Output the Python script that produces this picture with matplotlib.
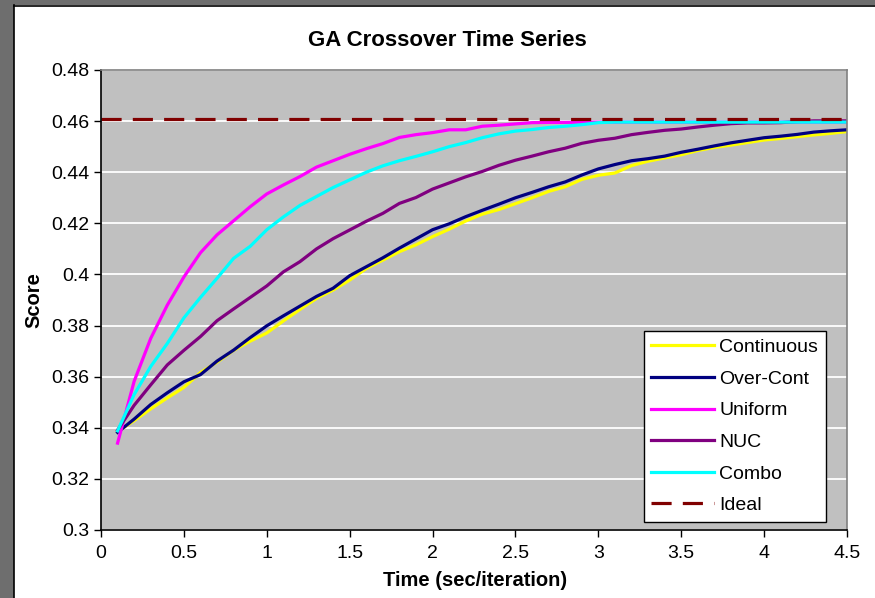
import matplotlib
matplotlib.use("Agg")
import matplotlib.pyplot as plt
import numpy as np
from matplotlib.patches import Rectangle

plt.rcParams['font.family'] = ['Liberation Sans', 'DejaVu Sans']

# time axis, one sample every 0.1 s
time = np.round(np.arange(1, 46) * 0.1, 1)

continuous = [0.3385, 0.3428, 0.3474, 0.3517, 0.3558, 0.3616, 0.3657, 0.3703, 0.3739, 0.3771,
              0.3818, 0.3863, 0.3906, 0.3939, 0.3978, 0.4023, 0.4056, 0.4089, 0.4116, 0.4148,
              0.4177, 0.4209, 0.4236, 0.4254, 0.4277, 0.4300, 0.4325, 0.4343, 0.4372, 0.4388,
              0.4397, 0.4426, 0.4443, 0.4456, 0.4468, 0.4485, 0.4497, 0.4506, 0.4516, 0.4526,
              0.4532, 0.4539, 0.4546, 0.4552, 0.4559]
over_cont = [0.3382, 0.3434, 0.3491, 0.3537, 0.3580, 0.3608, 0.3661, 0.3704, 0.3753, 0.3799,
             0.3838, 0.3876, 0.3914, 0.3946, 0.3995, 0.4030, 0.4065, 0.4103, 0.4139, 0.4175,
             0.4198, 0.4226, 0.4251, 0.4275, 0.4300, 0.4321, 0.4343, 0.4362, 0.4389, 0.4413,
             0.4430, 0.4445, 0.4453, 0.4463, 0.4478, 0.4490, 0.4503, 0.4515, 0.4525, 0.4535,
             0.4541, 0.4548, 0.4557, 0.4562, 0.4566]
uniform = [0.3340, 0.3582, 0.3750, 0.3880, 0.3990, 0.4085, 0.4155, 0.4210, 0.4265, 0.4315,
           0.4350, 0.4383, 0.4420, 0.4445, 0.4470, 0.4492, 0.4512, 0.4536, 0.4547, 0.4555,
           0.4566, 0.4566, 0.4580, 0.4584, 0.4589, 0.4594, 0.4595, 0.4595, 0.4596, 0.4596,
           0.4596, 0.4596, 0.4596, 0.4596, 0.4596, 0.4596, 0.4596, 0.4596, 0.4596, 0.4596,
           0.4596, 0.4596, 0.4596, 0.4596, 0.4596]
nuc = [0.3391, 0.3488, 0.3568, 0.3646, 0.3703, 0.3757, 0.3819, 0.3865, 0.3910, 0.3955,
       0.4010, 0.4050, 0.4100, 0.4140, 0.4174, 0.4208, 0.4239, 0.4278, 0.4301, 0.4334,
       0.4358, 0.4382, 0.4403, 0.4427, 0.4447, 0.4463, 0.4480, 0.4494, 0.4513, 0.4525,
       0.4533, 0.4547, 0.4556, 0.4564, 0.4569, 0.4577, 0.4584, 0.4590, 0.4593, 0.4593,
       0.4594, 0.4598, 0.4601, 0.4601, 0.4601]
combo = [0.3388, 0.3530, 0.3640, 0.3730, 0.3830, 0.3910, 0.3985, 0.4063, 0.4110, 0.4175,
         0.4225, 0.4270, 0.4305, 0.4340, 0.4370, 0.4400, 0.4425, 0.4445, 0.4462, 0.4480,
         0.4500, 0.4516, 0.4535, 0.4550, 0.4561, 0.4567, 0.4575, 0.4580, 0.4586, 0.4594,
         0.4596, 0.4596, 0.4596, 0.4596, 0.4596, 0.4596, 0.4596, 0.4596, 0.4596, 0.4596,
         0.4596, 0.4596, 0.4596, 0.4596, 0.4596]
ideal_score = 0.461

series = [("Continuous", continuous, "#FFFF00"),
          ("Over-Cont", over_cont, "#000080"),
          ("Uniform", uniform, "#FF00FF"),
          ("NUC", nuc, "#800080"),
          ("Combo", combo, "#00FFFF")]

fig = plt.figure(figsize=(8.75, 5.98), dpi=100)
fig.patch.set_facecolor("white")

# window frame on the left and top edges
fig.add_artist(Rectangle((0, 0), 14 / 875, 1, transform=fig.transFigure,
                         facecolor="#6e6e6e", edgecolor="none"))
fig.add_artist(Rectangle((0, 1 - 5 / 598), 1, 5 / 598, transform=fig.transFigure,
                         facecolor="#6e6e6e", edgecolor="none"))
fig.add_artist(plt.Line2D([14.5 / 875, 14.5 / 875], [0, 1 - 5 / 598], transform=fig.transFigure,
                          color="black", lw=1.2))
fig.add_artist(plt.Line2D([14.5 / 875, 1], [1 - 5.5 / 598, 1 - 5.5 / 598], transform=fig.transFigure,
                          color="black", lw=1.2))

ax = fig.add_axes([101 / 875, 1 - 530 / 598, 746 / 875, 460 / 598])
ax.set_facecolor("#C0C0C0")

for name, values, color in series:
    ax.plot(time, values, color=color, lw=2.3, label=name, solid_joinstyle="round")
ax.plot([0, 4.5], [ideal_score, ideal_score], color="#800000", lw=2.3,
        dashes=(6.3, 3.5), label="Ideal")

ax.set_xlim(0, 4.5)
ax.set_ylim(0.3, 0.48)
ax.set_xticks(np.arange(0, 4.51, 0.5))
ax.set_xticklabels(["0", "0.5", "1", "1.5", "2", "2.5", "3", "3.5", "4", "4.5"])
ax.set_yticks(np.arange(0.3, 0.481, 0.02))
ax.set_yticklabels(["0.3", "0.32", "0.34", "0.36", "0.38", "0.4", "0.42", "0.44", "0.46", "0.48"])
ax.yaxis.grid(True, color="white", lw=1.3)
ax.set_axisbelow(True)
ax.tick_params(direction="out", length=5, width=1, labelsize=14, colors="black")
ax.tick_params(axis="x", pad=6)

for side in ("left", "bottom"):
    ax.spines[side].set_color("black")
    ax.spines[side].set_linewidth(1.2)
for side in ("top", "right"):
    ax.spines[side].set_color("#808080")
    ax.spines[side].set_linewidth(1.2)

fig.text(447 / 875, 1 - 40 / 598, "GA Crossover Time Series", ha="center", va="center",
         fontsize=16, fontweight="bold")
fig.text(475 / 875, 1 - 581 / 598, "Time (sec/iteration)", ha="center", va="center",
         fontsize=14.5, fontweight="bold")
fig.text(34 / 875, 1 - 300 / 598, "Score", ha="center", va="center", rotation=90,
         fontsize=14.5, fontweight="bold")

leg = ax.legend(loc="lower right", bbox_to_anchor=(826 / 875, 1 - 522 / 598),
                bbox_transform=fig.transFigure, fontsize=14, frameon=True, fancybox=False,
                handlelength=3.2, handletextpad=0.3, labelspacing=0.72, borderpad=0.4,
                borderaxespad=0)
leg.get_frame().set_edgecolor("black")
leg.get_frame().set_linewidth(1.0)
leg.get_frame().set_facecolor("white")
leg.get_frame().set_alpha(1)

fig.savefig("out.png", dpi=100)
